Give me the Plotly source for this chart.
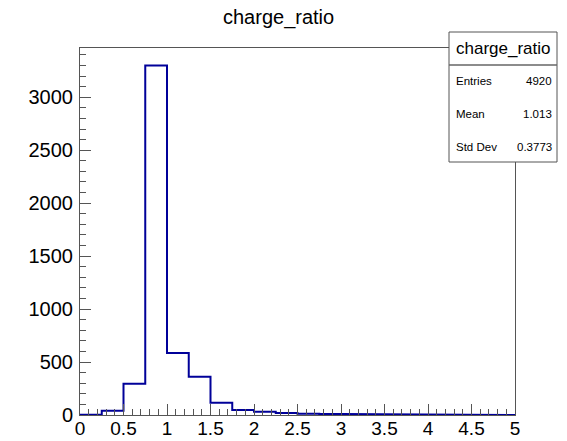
import plotly.graph_objects as go

# Histogram of charge_ratio: 20 bins of width 0.25 on [0, 5]
bin_edges = [0.0, 0.25, 0.5, 0.75, 1.0, 1.25, 1.5, 1.75, 2.0, 2.25, 2.5,
             2.75, 3.0, 3.25, 3.5, 3.75, 4.0, 4.25, 4.5, 4.75, 5.0]
bin_counts = [2, 40, 295, 3300, 585, 362, 115, 48, 30, 20, 12,
              10, 9, 3, 4, 1, 1, 0, 0, 0]

stats_title = "charge_ratio"
stats_labels = ["Entries", "Mean", "Std Dev"]
stats_values = ["4920", "1.013", "0.3773"]

x_ticks = [0, 0.5, 1, 1.5, 2, 2.5, 3, 3.5, 4, 4.5, 5]
x_tick_text = ["0", "0.5", "1", "1.5", "2", "2.5", "3", "3.5", "4", "4.5", "5"]
y_ticks = [0, 500, 1000, 1500, 2000, 2500, 3000]

W, H = 567, 441
L, R, T, B = 80, 52, 48, 26
pw, ph = W - L - R, H - T - B

def px_x(p):
    return (p - L) / pw

def px_y(p):
    return (H - B - p) / ph

FONT = "Liberation Sans, Arial, Helvetica, sans-serif"
LINE = "#000099"

# step outline, dropping to zero at both ends like a ROOT "hist" draw
xs_step, ys_step = [bin_edges[0]], [0]
for i, c in enumerate(bin_counts):
    xs_step += [bin_edges[i], bin_edges[i + 1]]
    ys_step += [c, c]
xs_step.append(bin_edges[-1]); ys_step.append(0)

fig = go.Figure()
fig.add_trace(go.Scatter(x=xs_step, y=ys_step, mode="lines",
                         line=dict(color=LINE, width=2),
                         hoverinfo="skip", showlegend=False))

ymax = 1.05 * max(bin_counts)

fig.update_layout(
    width=W, height=H,
    margin=dict(l=L, r=R, t=T, b=B, pad=0, autoexpand=False),
    paper_bgcolor="white", plot_bgcolor="white",
    showlegend=False,
    font=dict(family=FONT, color="black"),
    xaxis=dict(range=[0, 5], tickvals=x_ticks, ticktext=x_tick_text,
               ticks="inside", ticklen=11, tickwidth=1, tickcolor="#555",
               minor=dict(dtick=0.1, ticks="inside", ticklen=6, tickcolor="#555"),
               showgrid=False, zeroline=False, automargin=False,
               showline=True, linecolor="#555", linewidth=1, mirror=True,
               tickfont=dict(size=19, family=FONT), ticklabelstandoff=-4),
    yaxis=dict(range=[0, ymax], tickvals=y_ticks,
               ticks="inside", ticklen=11, tickwidth=1, tickcolor="#555",
               minor=dict(dtick=100, ticks="inside", ticklen=6, tickcolor="#555"),
               showgrid=False, zeroline=False, automargin=False,
               showline=True, linecolor="#555", linewidth=1, mirror=True,
               tickfont=dict(size=20, family=FONT), ticklabelstandoff=2),
)

# Title
fig.add_annotation(text="charge_ratio", xref="paper", yref="paper",
                   x=px_x(278), y=px_y(18), xanchor="center", yanchor="middle",
                   showarrow=False, font=dict(size=20, family=FONT))

# Statistics box
bx0, bx1, by0, by1, bsep = 449, 557, 32, 162, 65
fig.add_shape(type="rect", xref="paper", yref="paper",
              x0=px_x(bx0), x1=px_x(bx1), y0=px_y(by1), y1=px_y(by0),
              fillcolor="white", line=dict(color="#555", width=1), layer="above")
fig.add_shape(type="line", xref="paper", yref="paper",
              x0=px_x(bx0), x1=px_x(bx1), y0=px_y(bsep), y1=px_y(bsep),
              line=dict(color="#666", width=1.5), layer="above")
fig.add_annotation(text=stats_title, xref="paper", yref="paper",
                   x=px_x((bx0 + bx1) / 2), y=px_y(48), xanchor="center", yanchor="middle",
                   showarrow=False, font=dict(size=17, family=FONT))
for i, (lab, val) in enumerate(zip(stats_labels, stats_values)):
    yy = px_y(81 + 33 * i)
    fig.add_annotation(text=lab, xref="paper", yref="paper",
                       x=px_x(454), y=yy, xanchor="left", yanchor="middle",
                       showarrow=False, font=dict(size=11.5, family=FONT))
    fig.add_annotation(text=val, xref="paper", yref="paper",
                       x=px_x(554), y=yy, xanchor="right", yanchor="middle",
                       showarrow=False, font=dict(size=11.5, family=FONT))

fig.write_html("out.html")
